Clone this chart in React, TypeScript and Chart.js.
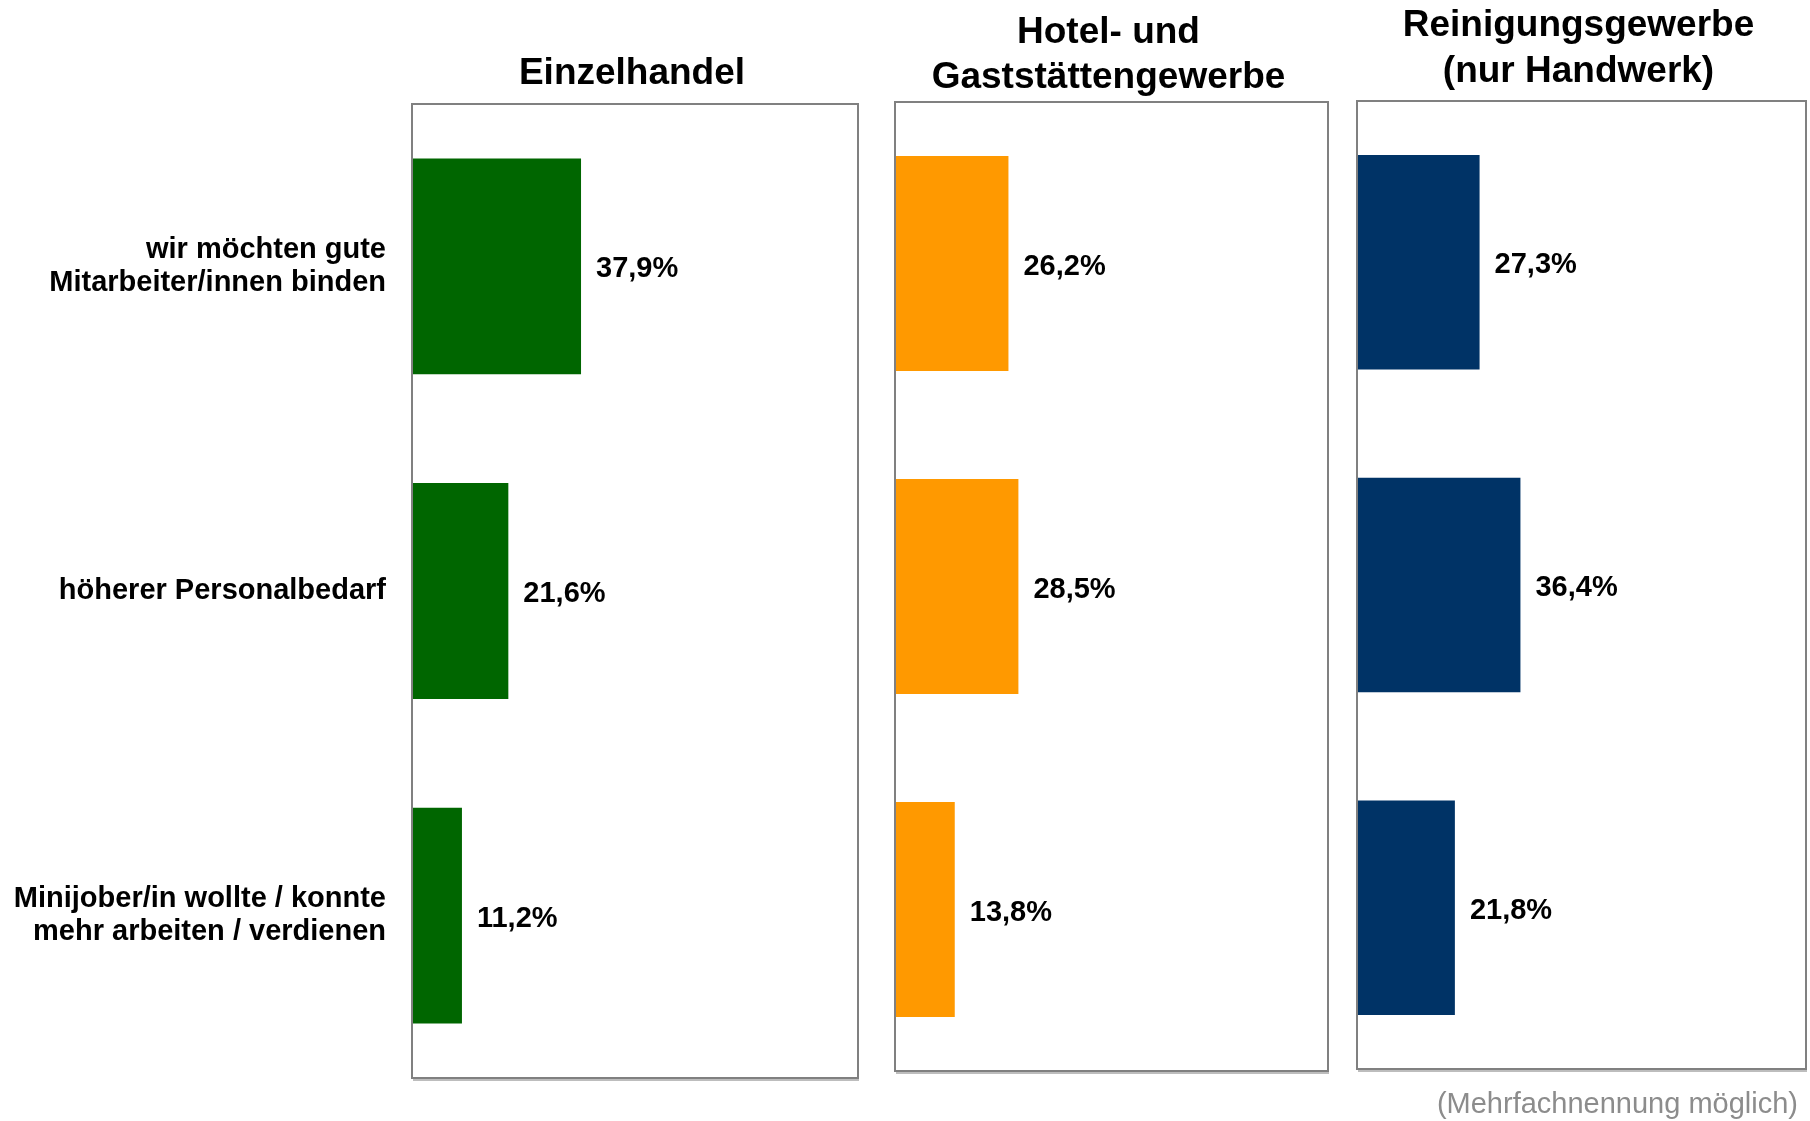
import React, { useEffect, useRef } from "react";
import { Chart, registerables } from "chart.js";

Chart.register(...registerables);

const categories: string[][] = [
  ["wir möchten gute", "Mitarbeiter/innen binden"],
  ["höherer Personalbedarf"],
  ["Minijober/in wollte / konnte", "mehr arbeiten / verdienen"],
];
const titleEinzelhandel = ["Einzelhandel"];
const titleHotel = ["Hotel- und", "Gaststättengewerbe"];
const titleReinigung = ["Reinigungsgewerbe", "(nur Handwerk)"];
const valuesEinzelhandel = [37.9, 21.6, 11.2];
const valuesHotel = [26.2, 28.5, 13.8];
const valuesReinigung = [27.3, 36.4, 21.8];
const footnote = "(Mehrfachnennung möglich)";
const axisMax = 100;

const FONT = '"Liberation Sans", Arial, Helvetica, sans-serif';

type PanelCfg = {
  left: number;
  width: number;
  padding: { top: number; bottom: number; left: number; right: number };
  yAxisWidth: number;
  values: number[];
  color: string;
  title: string[];
  titleBaselines: number[];
  footnote?: { text: string; x: number; y: number };
};

const panels: PanelCfg[] = [
  {
    left: 0,
    width: 870,
    padding: { top: 104, bottom: 43, left: 0, right: 12 },
    yAxisWidth: 412,
    values: valuesEinzelhandel,
    color: "#006600",
    title: titleEinzelhandel,
    titleBaselines: [84],
  },
  {
    left: 880,
    width: 460,
    padding: { top: 102, bottom: 50, left: 15, right: 12 },
    yAxisWidth: 0,
    values: valuesHotel,
    color: "#FF9900",
    title: titleHotel,
    titleBaselines: [43, 88],
  },
  {
    left: 1340,
    width: 470,
    padding: { top: 101, bottom: 52, left: 17, right: 4 },
    yAxisWidth: 0,
    values: valuesReinigung,
    color: "#003366",
    title: titleReinigung,
    titleBaselines: [36, 82],
    footnote: { text: footnote, x: 458, y: 1113 },
  },
];

function makePlugin(cfg: PanelCfg) {
  return {
    id: "panelDecor",
    afterDatasetsDraw(chart: any) {
      const { ctx, chartArea } = chart;
      ctx.save();
      // value labels
      ctx.font = `bold 29px ${FONT}`;
      ctx.fillStyle = "#000000";
      ctx.textAlign = "left";
      ctx.textBaseline = "middle";
      const meta = chart.getDatasetMeta(0);
      meta.data.forEach((bar: any, i: number) => {
        const v = cfg.values[i];
        const txt = v.toFixed(1).replace(".", ",") + "%";
        ctx.fillText(txt, bar.x + 15, bar.y + 3);
      });
      // frame
      ctx.strokeStyle = "#bdbdbd";
      ctx.lineWidth = 2;
      ctx.beginPath();
      ctx.moveTo(chartArea.left + 1, chartArea.bottom + 2);
      ctx.lineTo(chartArea.right + 1, chartArea.bottom + 2);
      ctx.stroke();
      ctx.strokeStyle = "#808080";
      ctx.lineWidth = 2;
      ctx.strokeRect(
        chartArea.left,
        chartArea.top,
        chartArea.right - chartArea.left,
        chartArea.bottom - chartArea.top
      );
      // title
      ctx.font = `bold 37px ${FONT}`;
      ctx.fillStyle = "#000000";
      ctx.textAlign = "center";
      ctx.textBaseline = "alphabetic";
      const cx = (chartArea.left + chartArea.right) / 2 - 3;
      cfg.title.forEach((line, i) => {
        ctx.fillText(line, cx, cfg.titleBaselines[i]);
      });
      if (cfg.footnote) {
        ctx.font = `29px ${FONT}`;
        ctx.fillStyle = "#8c8c8c";
        ctx.textAlign = "right";
        ctx.fillText(cfg.footnote.text, cfg.footnote.x, cfg.footnote.y);
      }
      ctx.restore();
    },
  };
}

export default function App() {
  const refs = [
    useRef<HTMLCanvasElement>(null),
    useRef<HTMLCanvasElement>(null),
    useRef<HTMLCanvasElement>(null),
  ];

  useEffect(() => {
    const charts: Chart[] = [];
    panels.forEach((cfg, idx) => {
      const canvas = refs[idx].current;
      if (!canvas) return;
      const showY = cfg.yAxisWidth > 0;
      const chart = new Chart(canvas, {
        type: "bar",
        data: {
          labels: categories as any,
          datasets: [
            {
              data: cfg.values,
              backgroundColor: cfg.color,
              borderWidth: 0,
              categoryPercentage: 1,
              barPercentage: 0.665,
            },
          ],
        },
        options: {
          indexAxis: "y",
          responsive: false,
          animation: false,
          devicePixelRatio: 1,
          layout: { padding: cfg.padding },
          plugins: {
            legend: { display: false },
            tooltip: { enabled: false },
            title: { display: false },
          },
          scales: {
            x: {
              display: false,
              min: 0,
              max: axisMax,
            },
            y: {
              display: showY,
              grid: { display: false, drawTicks: false },
              border: { display: false },
              afterFit: (scale: any) => {
                if (showY) {
                  scale.width = cfg.yAxisWidth;
                  scale.paddingTop = 0;
                  scale.paddingBottom = 0;
                }
              },
              ticks: {
                padding: 26,
                color: "#000000",
                font: { family: FONT, size: 29, weight: "bold", lineHeight: 1.15 },
              },
            },
          },
        },
        plugins: [makePlugin(cfg)],
      });
      charts.push(chart);
    });
    return () => charts.forEach((c) => c.destroy());
  }, []);

  return (
    <div
      style={{
        position: "absolute",
        left: 0,
        top: 0,
        width: 1810,
        height: 1121,
        background: "#ffffff",
      }}
    >
      {panels.map((cfg, idx) => (
        <canvas
          key={idx}
          ref={refs[idx]}
          width={cfg.width}
          height={1121}
          style={{
            position: "absolute",
            left: cfg.left,
            top: 0,
            width: cfg.width,
            height: 1121,
          }}
        />
      ))}
    </div>
  );
}
